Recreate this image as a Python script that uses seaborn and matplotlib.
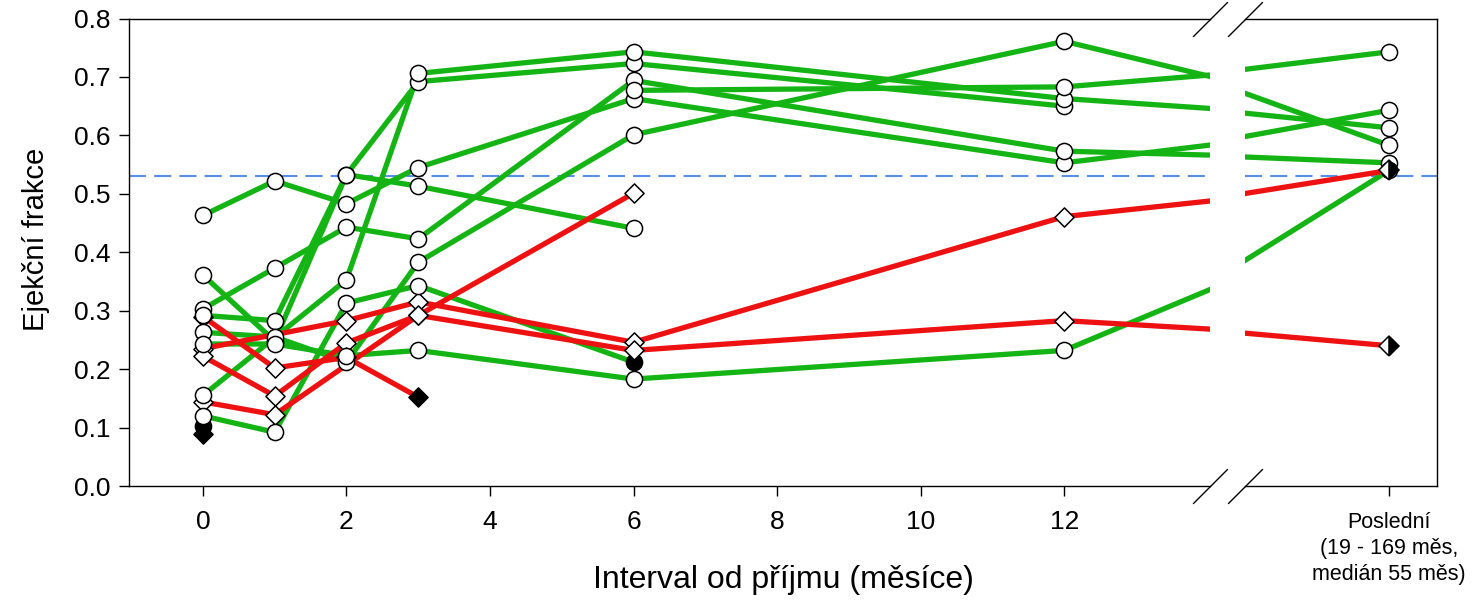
import numpy as np
import pandas as pd
import matplotlib
matplotlib.use("Agg")
import matplotlib.pyplot as plt
import seaborn as sns

# Measurement times (months); 18 is where the "last visit" column sits after the axis break
months = [0, 1, 2, 3, 6, 12, 18]
nan = np.nan

# Patients with recovery (green, circles): ejection fraction per visit
g01 = [0.463, 0.522, 0.483, 0.545, 0.663, 0.553, 0.643]
g02 = [0.303, 0.373, 0.443, 0.423, 0.694, 0.573, 0.553]
g03 = [0.361, 0.248, 0.533, 0.692, 0.723, 0.650, nan]
g04 = [0.155, nan, 0.353, 0.706, 0.743, 0.663, 0.613]
g05 = [0.292, 0.283, 0.533, 0.513, 0.441, nan, nan]
g06 = [0.263, 0.255, 0.212, 0.383, 0.601, 0.761, 0.583]
g07 = [0.120, 0.092, 0.313, 0.343, 0.212, nan, nan]
g08 = [0.243, 0.243, 0.223, 0.232, 0.183, 0.232, 0.540]
g09 = [nan, nan, nan, nan, 0.677, 0.683, 0.743]
g10 = [0.103, nan, nan, nan, nan, nan, nan]

# Patients without recovery (red, diamonds)
r01 = [0.144, 0.122, nan, 0.292, 0.501, nan, nan]
r02 = [0.235, nan, 0.283, 0.315, 0.246, 0.461, 0.540]
r03 = [0.222, 0.154, 0.245, 0.292, 0.232, 0.283, 0.240]
r04 = [0.290, 0.202, 0.220, 0.152, nan, nan, nan]
r05 = [0.089, nan, nan, nan, nan, nan, nan]

green_patients = [g01, g02, g03, g04, g05, g06, g07, g08, g09, g10]
red_patients = [r01, r02, r03, r04, r05]
# last marker drawn solid (end of follow-up)
green_solid_end = ["g07", "g10"]
red_solid_end = ["r04", "r05"]
red_half_end = ["r02", "r03"]

y_ticks = [0.0, 0.1, 0.2, 0.3, 0.4, 0.5, 0.6, 0.7, 0.8]
x_ticks = [0, 2, 4, 6, 8, 10, 12]
last_label = "Poslední\n(19 - 169 měs,\nmedián 55 měs)"
normal_limit = 0.53

GREEN = "#14b414"
RED = "#ee1111"
BLUE = "#5a8de6"

rows = []
for group, plist, prefix in (("g", green_patients, "g"), ("r", red_patients, "r")):
    for i, vals in enumerate(plist, start=1):
        pid = f"{prefix}{i:02d}"
        pts = [(m, v) for m, v in zip(months, vals) if not np.isnan(v)]
        for k, (m, v) in enumerate(pts):
            last = k == len(pts) - 1
            if last and pid in green_solid_end + red_solid_end:
                fill = "solid"
            elif last and pid in red_half_end:
                fill = "half"
            else:
                fill = "open"
            rows.append(dict(pid=pid, group=group, month=m, ef=v, fill=fill))
df = pd.DataFrame(rows)

sns.set_theme(style="white")
plt.rcParams["font.family"] = ["Liberation Sans", "DejaVu Sans"]
plt.rcParams["text.color"] = "black"
plt.rcParams["axes.labelcolor"] = "black"

W, H = 1480, 603
fig = plt.figure(figsize=(W / 100, H / 100), dpi=100)
bottom = (H - 486) / H
height = (486 - 18.5) / H
axL = fig.add_axes([129 / W, bottom, (1210 - 129) / W, height])
axR = fig.add_axes([1245 / W, bottom, (1437 - 1245) / W, height], sharey=axL)

line_df = df.groupby("pid").filter(lambda d: len(d) > 1)
open_df = df[df.fill == "open"]
solid_df = df[df.fill == "solid"]
half_df = df[df.fill == "half"]

for ax in (axL, axR):
    ax.axhline(normal_limit, color=BLUE, lw=1.5, dashes=(8.2, 3.9), zorder=1)
    sns.lineplot(data=line_df, x="month", y="ef", units="pid", hue="group",
                 palette={"g": GREEN, "r": RED}, estimator=None, lw=3.8,
                 legend=False, ax=ax, zorder=2, solid_capstyle="butt")
    # solid end markers first, then open diamonds, open circles, half-filled ends on top
    for grp, mk, s in (("g", "o", 135), ("r", "D", 95)):
        sub = solid_df[solid_df.group == grp]
        sns.scatterplot(data=sub, x="month", y="ef", marker=mk, s=s,
                        facecolor="black", edgecolor="black", linewidth=1.1,
                        ax=ax, zorder=3, legend=False)
    for grp, mk, s, z in (("r", "D", 95, 3.2), ("g", "o", 135, 3.3)):
        sub = open_df[open_df.group == grp]
        sns.scatterplot(data=sub, x="month", y="ef", marker=mk, s=s,
                        facecolor="white", edgecolor="black", linewidth=1.1,
                        ax=ax, zorder=z, legend=False)
    ax.plot(half_df.month, half_df.ef, ls="none", marker="D", markersize=9.7,
            fillstyle="right", markerfacecolor="black", markerfacecoloralt="white",
            markeredgecolor="black", markeredgewidth=1.1, zorder=3.4)
    for sp in ax.spines.values():
        sp.set_linewidth(1.0)
        sp.set_color("black")
    ax.set_xlabel("")
    ax.set_ylabel("")

axL.set_xlim(-1.03, 14.03)
axR.set_xlim(15, 19)
axL.set_ylim(0, 0.8)
axL.spines["right"].set_visible(False)
axR.spines["left"].set_visible(False)

axL.set_yticks(y_ticks)
axL.set_yticklabels([f"{t:.1f}" for t in y_ticks])
axL.set_xticks(x_ticks)
axL.set_xticklabels([str(t) for t in x_ticks])
axR.set_xticks([months[-1]])
axR.set_xticklabels([last_label], linespacing=1.3)
axR.tick_params(axis="y", left=False, labelleft=False)

axL.tick_params(axis="both", direction="out", length=7, width=1.0, labelsize=19,
                colors="black", pad=6, bottom=True, left=True)
axL.tick_params(axis="x", pad=10)
axR.tick_params(axis="x", direction="out", length=7, width=1.0, labelsize=15.5,
                colors="black", pad=12, bottom=True)

axL.set_ylabel("Ejekční frakce", fontsize=21, color="black")
axL.yaxis.set_label_coords(-0.073, 0.528)
fig.text(783 / W, 1 - 580 / H, "Interval od příjmu (měsíce)", fontsize=23,
         ha="center", va="center", color="black")

# diagonal break marks on both sides of the gap
brk = dict(marker=[(-1, -1), (1, 1)], markersize=25, linestyle="none",
           color="black", mec="black", mew=1.0, clip_on=False, zorder=5)
axL.plot([1, 1], [0, 1], transform=axL.transAxes, **brk)
axR.plot([0, 0], [0, 1], transform=axR.transAxes, **brk)

fig.savefig("out.png", dpi=100, facecolor="white")
